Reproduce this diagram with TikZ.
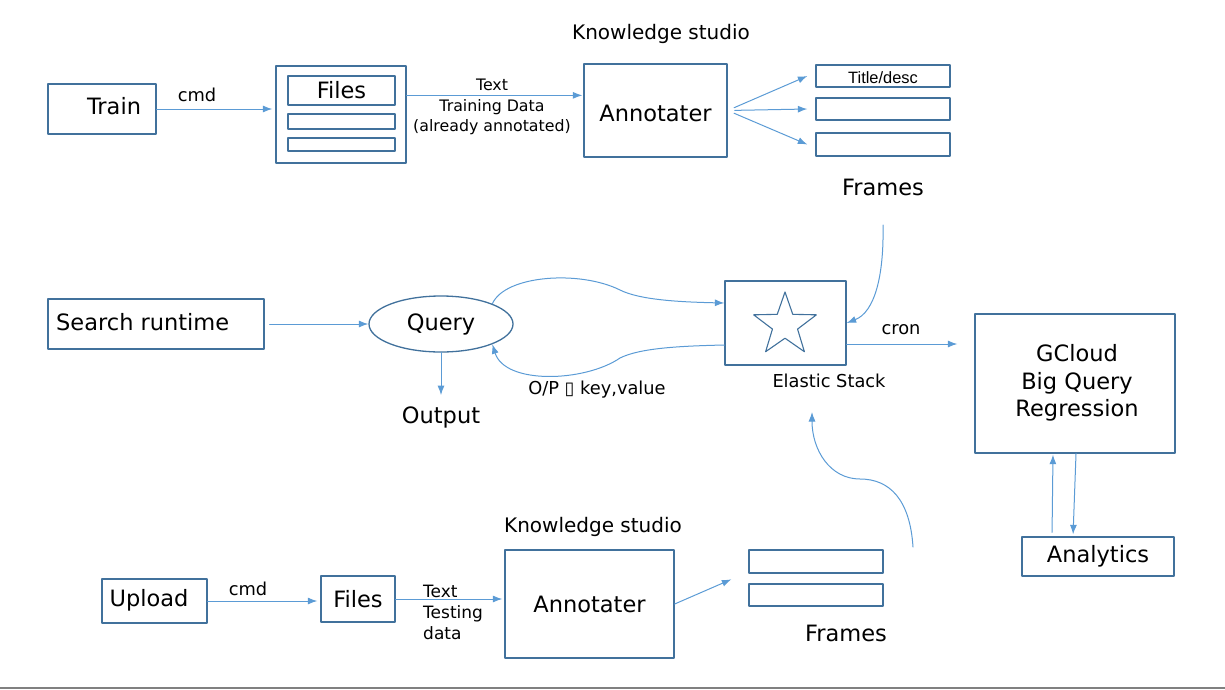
\documentclass[tikz,border=0pt]{standalone}
\usepackage{fontspec}
\setmainfont{DejaVu Sans}
\newfontfamily\arialfont{Liberation Sans}
\usetikzlibrary{shapes.geometric,arrows.meta}
\definecolor{boxblue}{HTML}{41719C}
\definecolor{lineblue}{HTML}{5B9BD5}
\begin{document}
\begin{tikzpicture}[x=1pt, y=-1pt, line join=round, line cap=round,
		box/.style={draw=boxblue, line width=1.3pt, inner sep=0pt},
		flow/.style={draw=lineblue, line width=1pt, -{Latex[length=9.5pt,width=7pt]}},
		big/.style={font=\fontsize{22.5}{27.5}\selectfont, inner sep=0pt},
		small/.style={font=\fontsize{17.8}{21}\selectfont, inner sep=0pt},
		ks/.style={font=\fontsize{20}{24}\selectfont, inner sep=0pt}]
		\def\W{1225}\def\H{689}
		\useasboundingbox (0,0) rectangle (\W,\H);
		\node[box, minimum width=108pt, minimum height=50pt] (train) at (102,109) {};
		\node[big] (trainlbl) at (114,106) {Train};
		\node[small] (cmdA) at (197,95) {cmd};
		\node[box, minimum width=130pt, minimum height=97pt] (files) at (341,114.5) {};
		\node[box, big, minimum width=107pt, minimum height=29pt] (filesA) at (341.5,90.5) {Files};
		\node[box, minimum width=107pt, minimum height=15pt] (filesB) at (341.5,121.5) {};
		\node[box, minimum width=107pt, minimum height=13pt] (filesC) at (341.5,144.5) {};
		\node[font=\fontsize{15.8}{20.5}\selectfont, align=center, inner sep=0pt] (trainTxt) at (492,107) {Text\\Training Data\\(already annotated)};
		\node[ks] (ksA) at (661,34) {Knowledge studio};
		\node[box, big, text height=22pt, minimum width=143pt, minimum height=93pt] (annot) at (655.5,110.5) {Annotater};
		\node[box, text height=15pt, minimum width=134pt, minimum height=22pt] (frA) at (883,76) {\arialfont\fontsize{16.4}{18}\selectfont Title/desc};
		\node[box, minimum width=134pt, minimum height=22pt] (frB) at (883,109) {};
		\node[box, minimum width=134pt, minimum height=23pt] (frC) at (883,144.5) {};
		\node[big] (framesA) at (883,187) {Frames};
		\coordinate (fdrop) at (883,225);
		\node[box, minimum width=216pt, minimum height=50pt] (search) at (156,324) {};
		\node[big, anchor=west] (searchLbl) at (56,322) {Search runtime};
		\node[box, big, ellipse, minimum width=144pt, minimum height=56pt] (query) at (441,324) {Query};
		\node[big] (output) at (441,417) {Output};
		\node[small] (opLbl) at (597,390) {O/P ▯ key,value};
		\node[box, minimum width=121pt, minimum height=84pt] (elastic) at (785.5,323) {};
		\node[star, star points=5, star point ratio=2.5, draw=boxblue, line width=1.1pt, minimum size=66pt, inner sep=0pt] (elstar) at (785,325) {};
		\node[small] (elLbl) at (829,381) {Elastic Stack};
		\node[small] (cronLbl) at (901,330) {cron};
		\node[box, minimum width=200pt, minimum height=139pt] (gc) at (1075,383.5) {};
		\node[big, align=center] (gcLbl) at (1077,383) {GCloud\\Big Query\\Regression};
		\node[box, big, minimum width=152pt, minimum height=39pt] (an) at (1098,556.5) {Analytics};
		\node[box, minimum width=105pt, minimum height=44pt] (upload) at (154.5,601) {};
		\node[big] (uploadLbl) at (149,600) {Upload};
		\node[small] (cmdB) at (248,589) {cmd};
		\node[box, big, minimum width=74pt, minimum height=46pt] (filesD) at (358,599) {Files};
		\node[font=\fontsize{17}{21}\selectfont, align=left, anchor=west, inner sep=0pt] (testTxt) at (423,612) {Text\\Testing\\data};
		\node[ks] (ksB) at (593,527) {Knowledge studio};
		\node[box, big, minimum width=169pt, minimum height=108pt] (annotB) at (589.5,604) {Annotater};
		\node[box, minimum width=134pt, minimum height=23pt] (fbA) at (816,561.5) {};
		\node[box, minimum width=134pt, minimum height=22pt] (fbB) at (816,595) {};
		\node[big] (framesB) at (846,633) {Frames};
		\coordinate (brise) at (913,547);
		\coordinate (btip) at (812,412);
		\coordinate (tdata) at ([yshift=-30pt]files.north east);
		\coordinate (cronA) at ([yshift=-21pt]elastic.east);
		\draw[flow, shorten >=3pt] (train.east) -- (train.east -| files.west);
		\draw[flow, shorten >=1pt] (tdata) -- (tdata -| annot.west);
		\foreach \f in {frA,frB,frC}\draw[flow, shorten <=7pt] (annot.east) -- ([xshift=-8pt]\f.west);
		\draw[flow, shorten <=5pt] (search.east) -- (query.west);
		\draw[flow, shorten >=11pt] (query.south) -- (output.north);
		\draw[flow] (query.north east) .. controls (505,275) and (580,270) .. (620,290) .. controls (640,300) and (680,302) .. ([yshift=20pt]elastic.west);
		\draw[flow] ([yshift=-22pt]elastic.west) .. controls (680,346) and (640,348) .. (620,358) .. controls (585,382) and (505,385) .. (query.south east);
		\draw[flow] (fdrop) .. controls (884,275) and (875,312) .. (elastic.east);
		\draw[flow, shorten >=17pt] (cronA) -- (cronA -| gc.west);
		\draw[flow, shorten <=4pt, shorten >=1pt] ([xshift=-46pt]an.north) -- ([xshift=-22pt]gc.south);
		\draw[flow, shorten >=2pt] ([xshift=1pt]gc.south) -- ([xshift=-25pt]an.north);
		\draw[flow, shorten >=3pt] (upload.east) -- (upload.east -| filesD.west);
		\draw[flow, shorten >=2pt] (filesD.east) -- (filesD.east -| annotB.west);
		\draw[flow] (annotB.east) -- ([xshift=-17pt,yshift=4pt]fbB.north west);
		\draw[flow] (brise) .. controls (910,500) and (890,479) .. (860,479) .. controls (830,479) and (812,450) .. (btip);
		\draw[gray, line width=1.5pt, line cap=butt] (0,688) -- (\W,688);
\end{tikzpicture}
\end{document}
